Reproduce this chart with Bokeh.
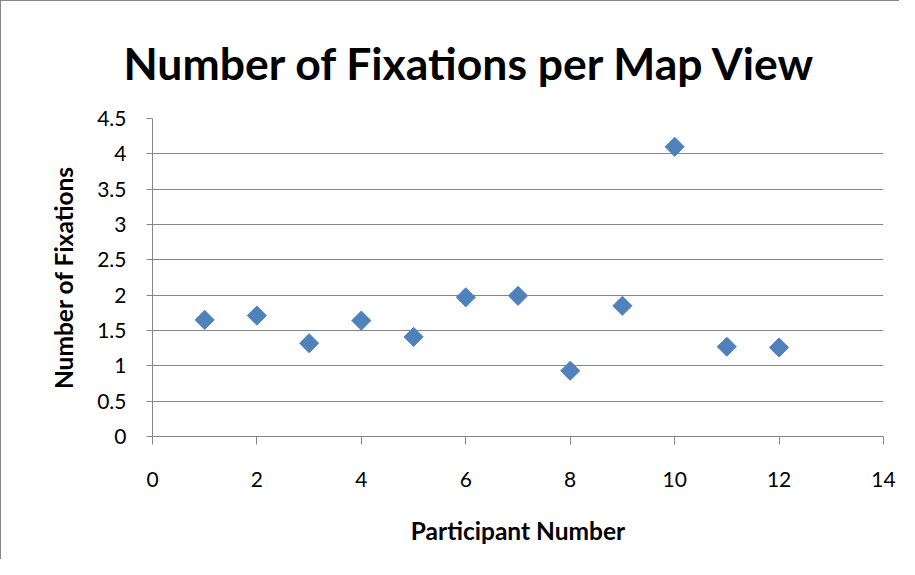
import math
from bokeh.plotting import figure
from bokeh.models import Range1d, FixedTicker
from bokeh.embed import file_html
from bokeh.resources import INLINE

participants = [1, 2, 3, 4, 5, 6, 7, 8, 9, 10, 11, 12]
fixations = [1.65, 1.71, 1.32, 1.64, 1.41, 1.97, 1.99, 0.93, 1.85, 4.10, 1.27, 1.26]
x_ticks = [0, 2, 4, 6, 8, 10, 12, 14]
y_ticks = [0, 0.5, 1, 1.5, 2, 2.5, 3, 3.5, 4, 4.5]

FONT = "Lato"
GREY = "#868686"

p = figure(width=899, height=559, output_backend="svg", toolbar_location=None,
           x_range=Range1d(0, 14), y_range=Range1d(0, 4.5),
           min_border_left=151, min_border_right=17, min_border_top=117, min_border_bottom=124)
p.outline_line_color = None
p.styles = {"border-left": "1px solid #868686", "border-top": "1px solid #868686"}

p.scatter(participants, fixations, marker="square", angle=math.pi / 4, size=13.5,
          fill_color="#4F81BD", line_color="#4F81BD")

p.xaxis.ticker = FixedTicker(ticks=x_ticks)
p.yaxis.ticker = FixedTicker(ticks=y_ticks)
p.yaxis.formatter.use_scientific = False
for ax in (p.xaxis[0], p.yaxis[0]):
    ax.axis_line_color = GREY
    ax.major_tick_line_color = GREY
    ax.major_tick_in = 0
    ax.minor_tick_line_color = None
    ax.major_label_text_font = FONT
    ax.major_label_text_font_size = "21px"
    ax.major_label_text_color = "#000000"
    ax.axis_label_text_font = FONT
    ax.axis_label_text_font_size = "24.5px"
    ax.axis_label_text_font_style = "bold"
    ax.axis_label_text_color = "#000000"

p.xaxis.major_tick_out = 8
p.yaxis.major_tick_out = 6
p.xaxis.axis_label = "Participant Number"
p.yaxis.axis_label = "Number of Fixations"
p.xaxis.major_label_standoff = 27
p.xaxis.axis_label_standoff = 26
p.yaxis.major_label_standoff = 20
p.yaxis.axis_label_standoff = 16

p.xgrid.grid_line_color = None
p.ygrid.grid_line_color = GREY
p.ygrid.grid_line_width = 1

p.title.text = "Number of Fixations per Map View"
p.title.align = "left"
p.title.offset = -29
p.title.standoff = 60
p.title.text_font = FONT
p.title.text_font_size = "44.5px"
p.title.text_font_style = "bold"
p.title.text_color = "#000000"

open("out.html", "w").write(file_html(p, INLINE))
